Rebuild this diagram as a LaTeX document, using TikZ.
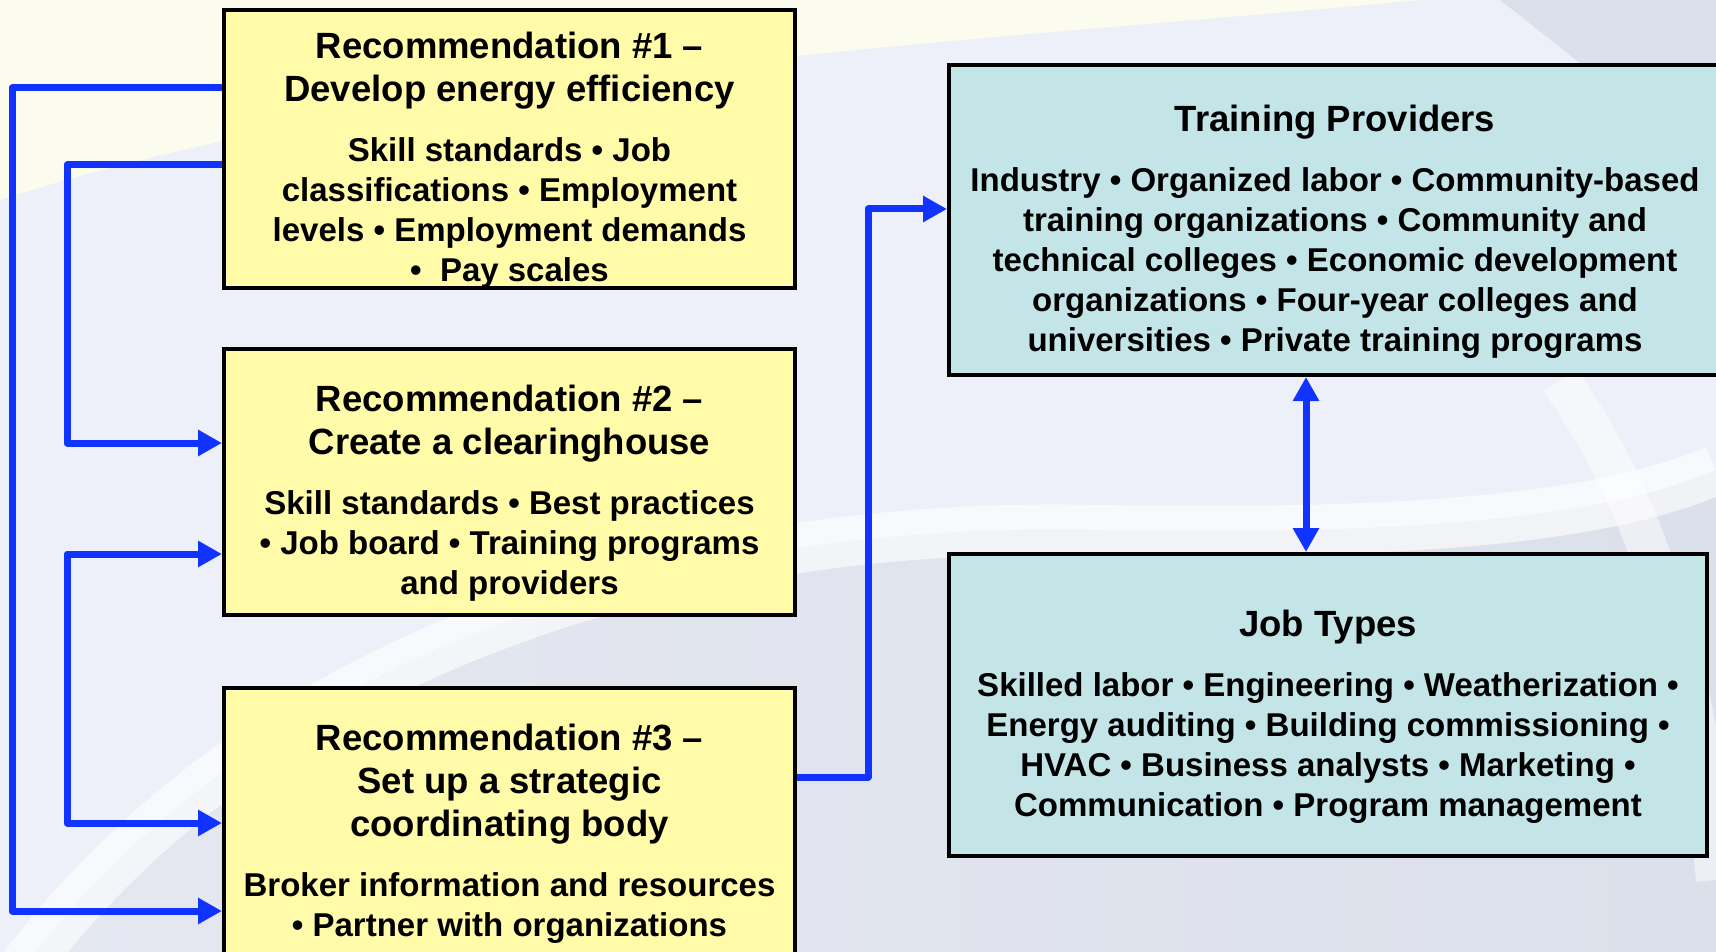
\documentclass[tikz,border=0pt]{standalone}
\usepackage{fontspec}
\setmainfont{Liberation Sans}
\usetikzlibrary{arrows.meta}
\definecolor{recyellow}{HTML}{FFFBA8}
\definecolor{provteal}{HTML}{C4E5E7}
\definecolor{linkblue}{HTML}{1133FF}
\definecolor{bglav}{HTML}{EDF0F8}
\definecolor{bgdark}{HTML}{DCE0EA}
\definecolor{bgmid}{HTML}{E5E8F1}
\definecolor{bgcream}{HTML}{FCFCEE}
\newcommand{\recheadfont}{\fontsize{36.5}{43}\selectfont\spaceskip=.278em\relax\xspaceskip=\spaceskip}
\newcommand{\recbodyfont}{\fontsize{33}{40}\selectfont\spaceskip=.278em\relax\xspaceskip=\spaceskip}

\begin{document}
\begin{tikzpicture}[x=1pt, y=-1pt,
  bluetip/.tip={Triangle[width=25pt,length=24pt]},
  box/.style={draw=black, line width=4pt, inner sep=3pt, font=\bfseries},
  recbox/.style={box, fill=recyellow, minimum width=571pt, text width=565pt},
  infobox/.style={box, fill=provteal},
  link/.style={draw=linkblue, line width=7pt, line join=round, -bluetip},
  twoway/.style={link, bluetip-bluetip}]
\useasboundingbox (0,0) rectangle (1716,952);
\clip (0,0) rectangle (1716,952);

% background
\fill[bglav] (0,0) rectangle (1716,952);
\fill[bgcream] (0,0) -- (1420,0) .. controls (1000,40) and (400,70) .. (0,200) -- cycle;
\shade[left color=bgmid, right color=bgdark] (0,1000) .. controls (250,640) and (700,520) .. (1100,530)
   .. controls (1400,535) and (1600,520) .. (1716,470) -- (1716,952) -- (0,952) -- cycle;
\draw[white, line width=50pt, opacity=0.6] (0,1000) .. controls (250,640) and (700,520) .. (1100,530)
   .. controls (1400,535) and (1600,520) .. (1716,470);
\draw[white, line width=40pt, opacity=0.5] (1560,380) .. controls (1660,520) and (1700,700) .. (1716,880);
\fill[bgdark] (1500,0) -- (1716,0) -- (1716,210) .. controls (1640,110) .. (1500,0) -- cycle;

% boxes
\node[recbox, minimum height=278pt] (rec1) at (509.5,149)
  {\centering\par\vspace*{3pt}{\recheadfont Recommendation \#1 --\\Develop energy efficiency\par}\vspace{20pt}%
   {\recbodyfont Skill standards • Job\\classifications • Employment\\levels • Employment demands\\•~ Pay scales\par}\kern-3pt};
\node[recbox, minimum height=266pt] (rec2) at (509.5,482)
  {\centering\par\vspace*{3pt}{\recheadfont Recommendation \#2 --\\Create a clearinghouse\par}\vspace{20pt}%
   {\recbodyfont Skill standards • Best practices\\• Job board • Training programs\\and providers\par}\kern-3pt};
\node[recbox, minimum height=274pt] (rec3) at (509.5,825)
  {\centering\par{\recheadfont Recommendation \#3 --\\Set up a strategic\\coordinating body\par}\vspace{20pt}%
   {\recbodyfont Broker information and resources\\• Partner with organizations\par}};
\node[infobox, minimum width=772pt, text width=766pt, minimum height=310pt] (prov) at (1335,220)
  {\centering\par\vspace*{3pt}{\recheadfont Training Providers\par}\vspace{20pt}%
   {\recbodyfont Industry • Organized labor • Community-based\\training organizations • Community and\\technical colleges • Economic development\\organizations • Four-year colleges and\\universities • Private training programs\par}\kern-3pt};
\node[infobox, minimum width=758pt, text width=752pt, minimum height=302pt] (jobs) at (1328,705)
  {\centering\par\vspace*{3pt}{\recheadfont Job Types\par}\vspace{20pt}%
   {\recbodyfont Skilled labor • Engineering • Weatherization •\\Energy auditing • Building commissioning •\\HVAC • Business analysts • Marketing •\\Communication • Program management\par}\kern-3pt};

% connectors
\draw[link] ([yshift=61pt]rec1.west) -- ++(-210,0) |- ([yshift=-86pt]rec3.west);
\draw[link] ([yshift=-16pt]rec1.west) -- ++(-155,0) |- ([yshift=39pt]rec2.west);
\draw[twoway] ([yshift=-72pt]rec2.west) -- ++(-155,0) |- ([yshift=2pt]rec3.west);
\draw[link] ([yshift=48pt]rec3.east) -- ++(71,0) |- ([yshift=11pt]prov.west);
\draw[twoway] ([xshift=-29pt]prov.south) -- ([xshift=-29pt]prov.south |- jobs.north);
\end{tikzpicture}
\end{document}
